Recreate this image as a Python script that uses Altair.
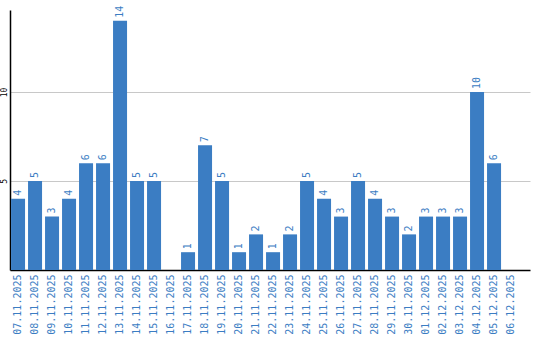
import altair as alt
import pandas as pd

dates = ["07.11.2025","08.11.2025","09.11.2025","10.11.2025","11.11.2025","12.11.2025",
         "13.11.2025","14.11.2025","15.11.2025","16.11.2025","17.11.2025","18.11.2025",
         "19.11.2025","20.11.2025","21.11.2025","22.11.2025","23.11.2025","24.11.2025",
         "25.11.2025","26.11.2025","27.11.2025","28.11.2025","29.11.2025","30.11.2025",
         "01.12.2025","02.12.2025","03.12.2025","04.12.2025","05.12.2025","06.12.2025"]
values = [4,5,3,4,6,6,14,5,5,0,1,7,5,1,2,1,2,5,4,3,5,4,3,2,3,3,3,10,6,0]

df = pd.DataFrame({"date": dates, "value": values})
blue = "#3b7dc3"
font = "DejaVu Sans Mono"

x = alt.X("date:N", sort=dates, title=None,
          scale=alt.Scale(paddingInner=0.176, paddingOuter=0.382, align=0.08),
          axis=alt.Axis(labelAngle=270, labelColor=blue, labelFont=font, labelFontSize=10,
                        ticks=False, domainColor="black", domainWidth=1.5, labelPadding=4))
y = alt.Y("value:Q", title=None, scale=alt.Scale(domain=[0, 14.6], nice=False),
          axis=alt.Axis(values=[5, 10], labelAngle=270, labelColor="black", labelFont=font,
                        labelFontSize=8, ticks=False, domainColor="black", domainWidth=1.5,
                        gridColor="#c8c8c8", labelAlign="center", labelBaseline="bottom",
                        labelPadding=2))

bars = alt.Chart(df).mark_bar(color=blue).encode(x=x, y=y)
labels = alt.Chart(df).transform_filter("datum.value > 0").mark_text(
    angle=270, align="left", baseline="middle", dx=3, color=blue, font=font, fontSize=10
).encode(x=alt.X("date:N", sort=dates), y="value:Q", text="value:Q")

chart = (bars + labels).properties(
    width=520, height=260,
    autosize=alt.AutoSizeParams(type="none"),
    padding={"left": 10, "top": 10, "right": 10, "bottom": 70},
).configure_view(stroke=None).configure_axisX(grid=False)

chart.save("out.html", embed_options={"renderer": "svg", "actions": False})
